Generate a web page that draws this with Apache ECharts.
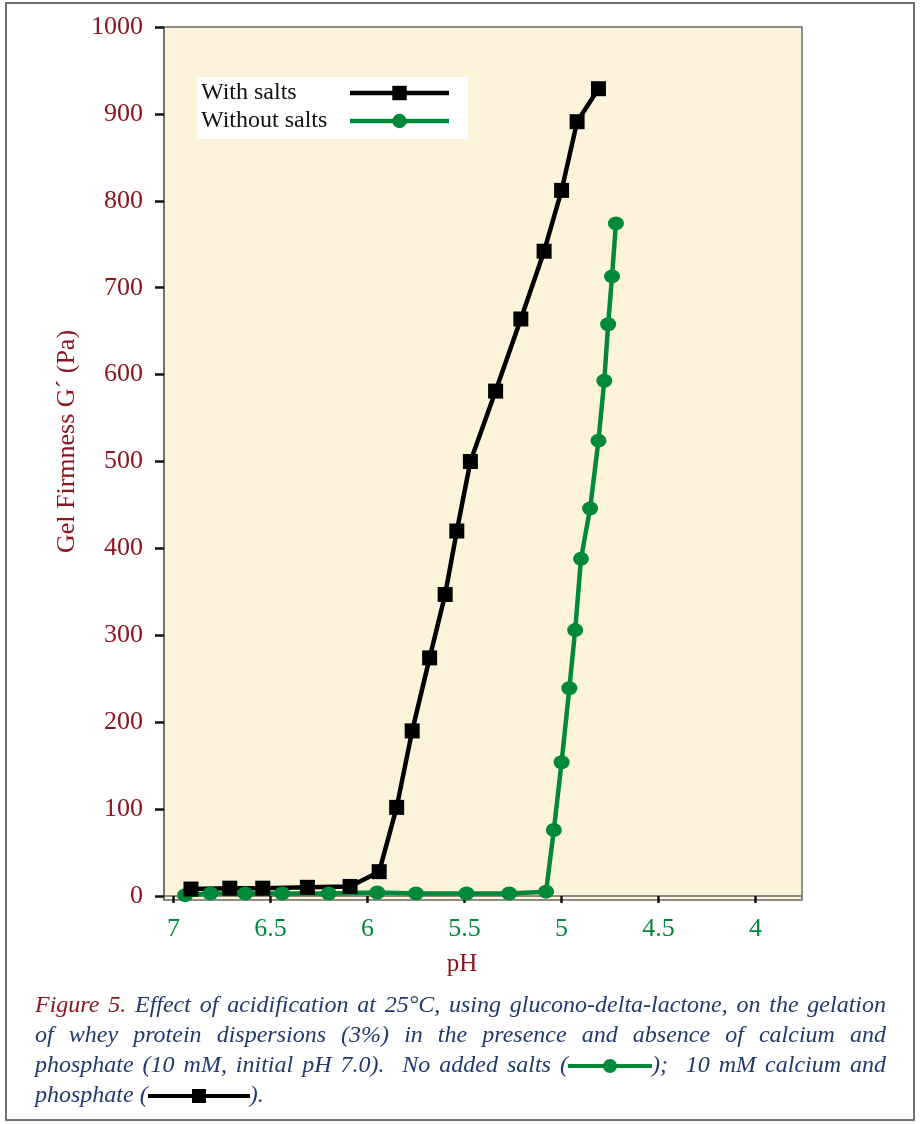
<!DOCTYPE html>
<html>
<head>
<meta charset="utf-8">
<script src="https://cdn.jsdelivr.net/npm/echarts@6/dist/echarts.min.js"></script>
<style>
  body { margin: 0; background: #fff; }
  #main { position: absolute; left: 0; top: 0; width: 920px; height: 1124px; }
  #frame { position: absolute; left: 5px; top: 2px; width: 910px; height: 1119px; border: 2px solid #707070; box-sizing: border-box; pointer-events: none; }
  #caption { position: absolute; left: 35px; top: 989px; width: 851px; font-family: "Liberation Serif", serif; font-style: italic; font-size: 24px; line-height: 30px; color: #1f3a6c; }
  #caption div { white-space: nowrap; text-align: justify; text-align-last: justify; }
  #caption div.last { text-align-last: left; }
  .fig { color: #8b1620; }
  .key { display: inline-block; position: relative; height: 16px; vertical-align: -2px; }
  .key .ln { position: absolute; left: 0; right: 0; top: 6px; height: 4px; }
  .key .mk { position: absolute; left: 50%; top: 1px; width: 14px; height: 14px; margin-left: -7px; }
</style>
</head>
<body>
<div id="main"></div>
<div id="frame"></div>
<div id="caption">
  <div><span class="fig">Figure 5.</span> Effect of acidification at 25°C, using glucono-delta-lactone, on the gelation</div>
  <div>of whey protein dispersions (3%) in the presence and absence of calcium and</div>
  <div>phosphate (10 mM, initial pH 7.0).&nbsp; No added salts (<span class="key" style="width:84px"><span class="ln" style="background:#00893b"></span><span class="mk" style="background:#00893b;border-radius:50%"></span></span>);&nbsp; 10 mM calcium and</div>
  <div class="last">phosphate (<span class="key" style="width:102px"><span class="ln" style="background:#000"></span><span class="mk" style="background:#000"></span></span>).</div>
</div>
<script>
// pH readings (x) and gel firmness G' in Pa (y)
var phSalts = [6.91, 6.71, 6.54, 6.31, 6.09, 5.94, 5.85, 5.77, 5.68, 5.60, 5.54, 5.47, 5.34, 5.21, 5.09, 5.00, 4.92, 4.81];
var gSalts = [8, 9, 9, 10, 11, 28, 102, 190, 274, 347, 420, 500, 581, 664, 742, 812, 891, 929];

var phNoSalts = [6.94, 6.81, 6.63, 6.44, 6.20, 5.95, 5.75, 5.49, 5.27, 5.08, 5.04, 5.00, 4.96, 4.93, 4.90, 4.853, 4.81, 4.78, 4.76, 4.74, 4.72];
var gNoSalts = [1, 3, 3, 3, 3, 4, 3, 3, 3, 5, 76, 154, 239, 306, 388, 446, 524, 593, 658, 713, 774];

var phTicks = [7, 6.5, 6, 5.5, 5, 4.5, 4];
var gTicks = [0, 100, 200, 300, 400, 500, 600, 700, 800, 900, 1000];

var red = '#8b1620';
var green = '#00893b';
var serif = '"Liberation Serif", serif';

function pairs(xs, ys) {
  return xs.map(function (x, i) { return [x, ys[i]]; });
}

var myChart = echarts.init(document.getElementById('main'));

var option = {
  animation: false,
  textStyle: { fontFamily: serif },
  grid: {
    left: 164,
    right: 118,
    top: 27,
    bottom: 224,
    show: true,
    backgroundColor: '#fdf3da',
    borderColor: '#6a6a6a',
    borderWidth: 1.5
  },
  legend: {
    data: ['With salts', 'Without salts'],
    orient: 'vertical',
    align: 'right',
    left: 197,
    top: 77,
    padding: [4, 17, 6, 4],
    itemGap: 4,
    itemWidth: 99,
    itemHeight: 18,
    backgroundColor: '#ffffff',
    lineStyle: { width: 4.5 },
    formatter: '{t|{name}}',
    textStyle: {
      rich: {
        t: { width: 144, align: 'left', fontSize: 24, lineHeight: 26, color: '#111', fontFamily: serif }
      }
    }
  },
  xAxis: {
    type: 'value',
    inverse: true,
    min: 3.761,
    max: 7.049,
    name: 'pH',
    nameLocation: 'middle',
    nameGap: 52,
    nameTextStyle: { color: red, fontSize: 25, fontFamily: serif, padding: [0, 42, 0, 0] },
    axisLine: { show: true, lineStyle: { color: '#6a6a6a', width: 1.5 } },
    axisTick: { show: true, length: 7, customValues: phTicks, lineStyle: { color: '#111', width: 2.5 } },
    axisLabel: { customValues: phTicks, margin: 16, color: green, fontSize: 26, fontFamily: serif },
    splitLine: { show: false }
  },
  yAxis: {
    type: 'value',
    min: -4.6,
    max: 1000,
    name: 'Gel Firmness G\u00B4 (Pa)',
    nameLocation: 'middle',
    nameGap: 80,
    nameTextStyle: { color: red, fontSize: 26, fontFamily: serif, padding: [0, 0, 0, 44] },
    axisLine: { show: true, lineStyle: { color: '#6a6a6a', width: 1.5 } },
    axisTick: { show: true, length: 9, customValues: gTicks, lineStyle: { color: '#111', width: 2.5 } },
    axisLabel: {
      customValues: gTicks,
      margin: 21,
      color: red,
      fontSize: 26,
      fontFamily: serif,
      formatter: function (v) { return String(v); }
    },
    splitLine: { show: false }
  },
  series: [
    {
      name: 'Without salts',
      type: 'line',
      data: pairs(phNoSalts, gNoSalts),
      symbol: 'circle',
      symbolSize: [16, 14],
      lineStyle: { color: green, width: 4.5 },
      itemStyle: { color: green }
    },
    {
      name: 'With salts',
      type: 'line',
      data: pairs(phSalts, gSalts),
      symbol: 'rect',
      symbolSize: 15,
      lineStyle: { color: '#000', width: 4.5 },
      itemStyle: { color: '#000' }
    }
  ]
};

myChart.setOption(option);
</script>
</body>
</html>
